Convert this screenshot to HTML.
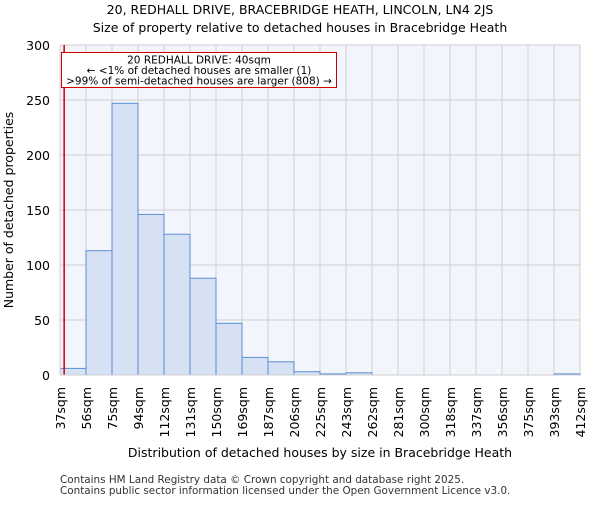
<!DOCTYPE html>
<html><head><meta charset="utf-8"><style>
body{margin:0;background:#fff;font-family:"Liberation Sans","DejaVu Sans",sans-serif}
</style></head><body>
<svg id="chart" width="600" height="500" xmlns="http://www.w3.org/2000/svg" font-family="DejaVu Sans, Liberation Sans, sans-serif">
<text x="300" y="14" text-anchor="middle" font-size="12.5">20, REDHALL DRIVE, BRACEBRIDGE HEATH, LINCOLN, LN4 2JS</text>
<text x="300" y="32" text-anchor="middle" font-size="12.5">Size of property relative to detached houses in Bracebridge Heath</text>
<rect x="60" y="45" width="520" height="330" fill="#f2f6fc"/>
<g id="grid"></g><g id="bars"></g><g id="axes"></g>
<text transform="translate(13,210) rotate(-90)" text-anchor="middle" font-size="12.5">Number of detached properties</text>
<text x="320" y="457" text-anchor="middle" font-size="12.5">Distribution of detached houses by size in Bracebridge Heath</text>
<text x="60" y="483" font-size="10.4" fill="#333">Contains HM Land Registry data © Crown copyright and database right 2025.</text>
<text x="60" y="494" font-size="10.4" fill="#333">Contains public sector information licensed under the Open Government Licence v3.0.</text>
</svg>
<script>
const binLabels=["37sqm","56sqm","75sqm","94sqm","112sqm","131sqm","150sqm","169sqm","187sqm","206sqm","225sqm","243sqm","262sqm","281sqm","300sqm","318sqm","337sqm","356sqm","375sqm","393sqm","412sqm"];
const counts=[6,113,247,146,128,88,47,16,12,3,1,2,0,0,0,0,0,0,0,1];
const yTicks=[0,50,100,150,200,250,300];
const markerValue=40;
const binStart=37, binEnd=412;
const NS="http://www.w3.org/2000/svg";
const X0=60,X1=580,Y0=375,Y1=45;
const xIdx=i=>X0+i*(X1-X0)/counts.length;
const xVal=v=>X0+(v-binStart)/(binEnd-binStart)*(X1-X0);
const y=v=>Y0-v/300*(Y0-Y1);
function mk(t,a,p){const e=document.createElementNS(NS,t);for(const k in a)e.setAttribute(k,a[k]);p.appendChild(e);return e;}
const grid=document.getElementById('grid'),bars=document.getElementById('bars'),axes=document.getElementById('axes');
yTicks.forEach(t=>{
 const l=mk('line',{x1:X0,x2:X1,y1:y(t),y2:y(t),stroke:'#cfcfcf'},grid);
 
 
 const tx=mk('text',{x:X0-10,y:y(t)+5,'text-anchor':'end','font-size':'12.5'},axes);
 tx.textContent=t;
 
 
});
binLabels.forEach((s,i)=>{
 const l=mk('line',{x1:xIdx(i),x2:xIdx(i),y1:Y1,y2:Y0,stroke:'#cfcfcf'},grid);
 
 
 const tx=mk('text',{transform:`translate(${xIdx(i)+5},387) rotate(-90)`,'text-anchor':'end','font-size':'12.5'},axes);
 tx.textContent=s;
 
 
});
counts.forEach((c,i)=>{
 if(c<=0)return;
 const r=mk('rect',{x:xIdx(i),y:y(c),width:xIdx(i+1)-xIdx(i),height:Y0-y(c),fill:'#d6e1f3',stroke:'#5b8dd6','stroke-width':1},bars);
 
 
});
const ml=mk('line',{x1:xVal(markerValue),x2:xVal(markerValue),y1:Y1,y2:Y0,stroke:'#cc0000','stroke-width':1.5},bars);


const box=mk('rect',{x:61.5,y:52.5,width:275,height:35,fill:'#fff',stroke:'#cc0000'},bars);


["20 REDHALL DRIVE: 40sqm","← <1% of detached houses are smaller (1)",">99% of semi-detached houses are larger (808) →"].forEach((s,i)=>{
 const t=mk('text',{x:199,y:63.5+i*10.5,'text-anchor':'middle','font-size':'10.5'},bars);
 t.textContent=s;
 
 
});
const ax=mk('path',{d:`M${X0} ${Y1}V${Y0}H${X1}`,fill:'none',stroke:'#cfcfcf'},axes);


</script>
</body></html>
